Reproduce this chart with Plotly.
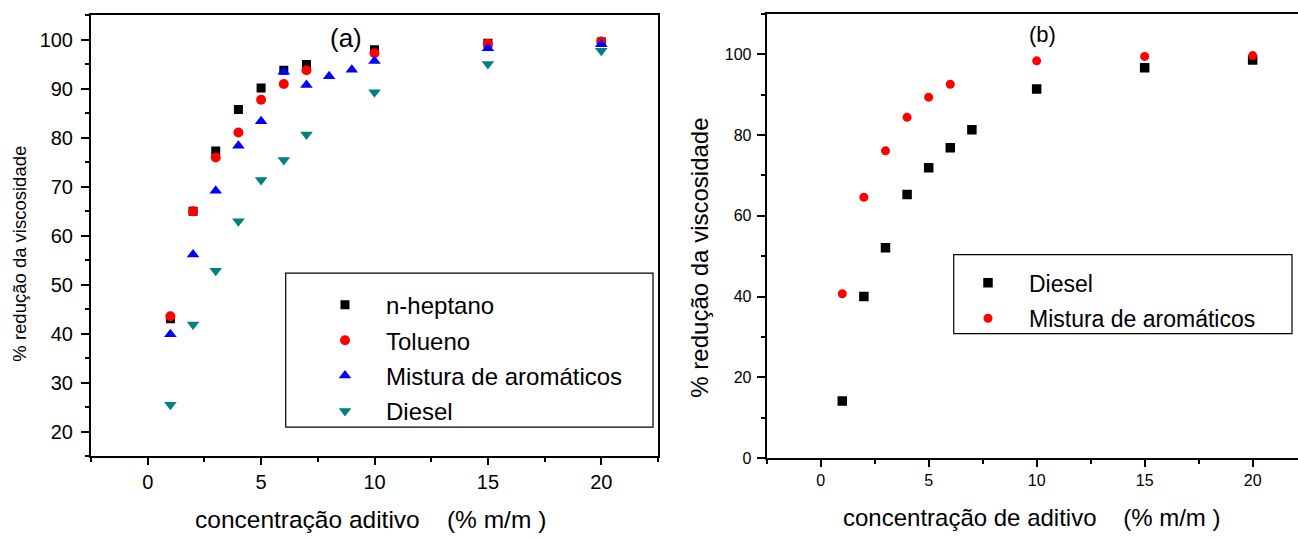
import plotly.graph_objects as go

# Panel (a): viscosity reduction vs additive concentration, four diluents
conc_a = [1, 2, 3, 4, 5, 6, 7, 10, 15, 20]
heptano = [43.1, 65.0, 77.3, 85.8, 90.2, 93.8, 95.0, 98.0, 99.3, 99.6]
tolueno = [43.6, 65.0, 76.0, 81.1, 87.8, 91.0, 93.8, 97.3, 99.2, 99.7]
conc_mist_a = [1, 2, 3, 4, 5, 6, 7, 8, 9, 10, 15, 20]
mistura_a = [39.9, 56.2, 69.2, 78.4, 83.4, 93.5, 90.8, 92.6, 93.9, 95.7, 98.3, 99.1]
diesel_a = [25.5, 41.9, 52.9, 63.0, 71.4, 75.5, 80.7, 89.3, 95.1, 97.8]

# Panel (b): diesel vs aromatic mixture
conc_b = [1, 2, 3, 4, 5, 6, 7, 10, 15, 20]
diesel_b = [14.1, 40.0, 52.1, 65.3, 71.9, 76.9, 81.3, 91.4, 96.7, 98.6]
conc_mist_b = [1, 2, 3, 4, 5, 6, 10, 15, 20]
mistura_b = [40.7, 64.6, 76.1, 84.4, 89.4, 92.6, 98.4, 99.5, 99.7]

W, H = 1298, 540
FONT = "Liberation Sans, Arial, sans-serif"
NB = "\u00a0"


def px(x):
    return x / W


def py(y):
    return 1 - y / H


fig = go.Figure()

# each legend row gets its own legend box so rows sit on a fixed pitch
series = [
    # x, y, name, symbol, size, color, axes, row centre (px), legend left (px), font size
    (conc_a, heptano, "n-heptano", "square", 9, "#000000", ("x", "y"), 304, 304, 24),
    (conc_a, tolueno, "Tolueno", "circle", 10, "#ff0000", ("x", "y"), 340, 304, 24),
    (conc_mist_a, mistura_a, "Mistura de aromáticos", "triangle-up", 11, "#0000ff", ("x", "y"), 376, 304, 24),
    (conc_a, diesel_a, "Diesel", "triangle-down", 11, "#008080", ("x", "y"), 412, 304, 24),
    (conc_b, diesel_b, "Diesel", "square", 9.5, "#000000", ("x2", "y2"), 282.3, 947, 23),
    (conc_mist_b, mistura_b, "Mistura de aromáticos", "circle", 9, "#ff0000", ("x2", "y2"), 318.3, 947, 23),
]

legends = {}
for i, (xs, ys, name, sym, size, color, (xa, ya), row_y, leg_x, fsize) in enumerate(series):
    key = "legend" if i == 0 else f"legend{i + 1}"
    fig.add_trace(go.Scatter(x=xs, y=ys, mode="markers", name=name,
                             marker=dict(symbol=sym, size=size, color=color),
                             xaxis=xa, yaxis=ya, legend=key))
    legends[key] = dict(x=px(leg_x), y=py(row_y - 16.5), xanchor="left", yanchor="top",
                        bgcolor="rgba(0,0,0,0)", borderwidth=0, itemwidth=72,
                        font=dict(size=fsize, family=FONT, color="#000000"))

axis_common = dict(showgrid=False, zeroline=False, showline=True, linecolor="#000000",
                   linewidth=2, ticks="outside", tickcolor="#000000", tickwidth=1.5,
                   color="#000000")

fig.update_layout(
    width=W, height=H,
    margin=dict(l=0, r=0, t=0, b=0),
    paper_bgcolor="white", plot_bgcolor="white",
    font=dict(family=FONT, color="#000000"),
    xaxis=dict(axis_common, domain=[px(91), px(658)], range=[-2.5, 22.5], dtick=5, tick0=0,
               ticklen=7, mirror=True, tickfont=dict(size=20),
               minor=dict(dtick=2.5, tick0=0, ticks="outside", ticklen=4, tickcolor="#000000"),
               anchor="y"),
    yaxis=dict(axis_common, domain=[py(464), py(15.7)], range=[15, 105], dtick=10, tick0=0,
               ticklen=8, mirror=True, tickfont=dict(size=20), ticklabelstandoff=4,
               minor=dict(dtick=5, tick0=0, ticks="outside", ticklen=4, tickcolor="#000000"),
               anchor="x"),
    xaxis2=dict(axis_common, domain=[px(766.7), 1.0], range=[-2.5, 22.1], dtick=5, tick0=0,
                ticklen=7, mirror=True, tickfont=dict(size=16),
                minor=dict(dtick=2.5, tick0=0, ticks="outside", ticklen=4, tickcolor="#000000"),
                anchor="y2"),
    yaxis2=dict(axis_common, domain=[py(465.7), py(14.3)], range=[0, 110], dtick=20, tick0=0,
                ticklen=8, mirror=False, tickfont=dict(size=16), ticklabelstandoff=2,
                minor=dict(dtick=10, tick0=0, ticks="outside", ticklen=4, tickcolor="#000000"),
                anchor="x2"),
    showlegend=True,
    **legends,
)

# legend frames
fig.add_shape(type="rect", xref="paper", yref="paper",
              x0=px(285.7), x1=px(653), y0=py(434.3), y1=py(277.7),
              line=dict(color="#000000", width=1.2))
fig.add_shape(type="rect", xref="paper", yref="paper",
              x0=px(953.7), x1=px(1292), y0=py(339.3), y1=py(259),
              line=dict(color="#000000", width=1.2))

sp = NB * 4
annotations = [
    dict(text="(a)", x=px(346), y=py(39), size=26),
    dict(text="(b)", x=px(1042), y=py(35), size=22),
    dict(text="concentração aditivo" + sp + "(% m/m )", x=px(370), y=py(528), size=24.5),
    dict(text="concentração de aditivo" + sp + "(% m/m )", x=px(1031), y=py(526), size=24),
    dict(text="% redução da viscosidade", x=px(20), y=py(258), textangle=-90, size=18.5),
    dict(text="% redução da viscosidade", x=px(700), y=py(262), textangle=-90, size=24),
]
for a in annotations:
    size = a.pop("size")
    fig.add_annotation(xref="paper", yref="paper", showarrow=False,
                       xanchor="center", yanchor="middle",
                       font=dict(family=FONT, color="#000000", size=size), **a)

fig.write_html("out.html")
